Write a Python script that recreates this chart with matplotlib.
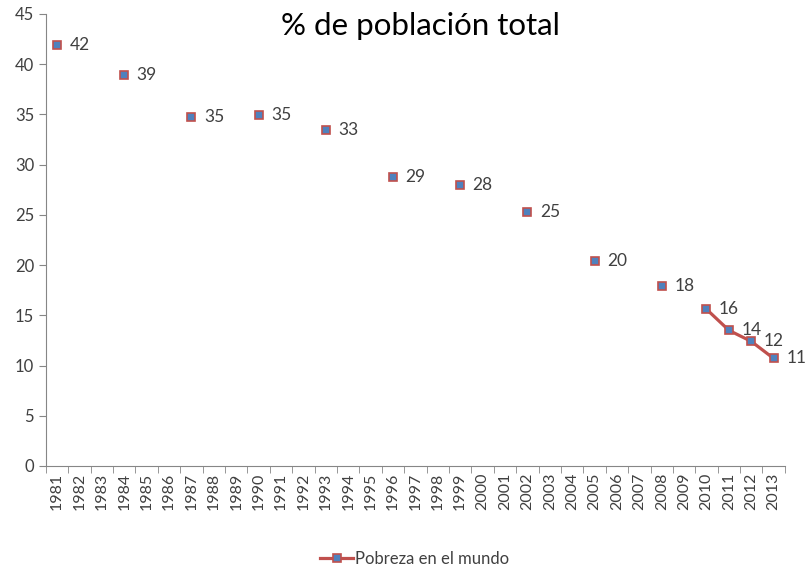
import numpy as np
import matplotlib
matplotlib.use("Agg")
import matplotlib.pyplot as plt

plt.rcParams['font.family'] = ['Lato', 'DejaVu Sans']

# data (NaN = no value for that year)
years = [str(y) for y in range(1981, 2014)]
values = {
    1981: 41.9, 1984: 38.9, 1987: 34.7, 1990: 34.9, 1993: 33.4,
    1996: 28.8, 1999: 28.0, 2002: 25.3, 2005: 20.4, 2008: 17.9,
    2010: 15.6, 2011: 13.5, 2012: 12.4, 2013: 10.7,
}
poverty = [values.get(int(y), np.nan) for y in years]
series_name = "Pobreza en el mundo"
title = "% de población total"

text_col = "#404040"
axis_col = "#868686"

fig = plt.figure(figsize=(8.05, 5.76), dpi=100)
ax = fig.add_axes([0.057, 0.191, 0.918, 0.785])

x = np.arange(len(years))
ax.plot(x, poverty, color="#C0504D", linewidth=2.3, marker="s",
        markersize=6.2, markerfacecolor="#4F81BD", markeredgecolor="#C0504D",
        markeredgewidth=1.2, label=series_name, zorder=3)

for xi, v in zip(x, poverty):
    if not np.isnan(v):
        ax.annotate(f"{v:.0f}", (xi, v), xytext=(9, 0), textcoords="offset points",
                    va="center", ha="left", fontsize=12.5, color=text_col)

ax.set_xlim(-0.5, len(years) - 0.5)
ax.set_ylim(0, 45)
ax.set_yticks(range(0, 46, 5))
ax.set_xticks(x)
ax.set_xticklabels(years, rotation=90, fontsize=11.5, color=text_col)
ax.set_xticks(np.arange(-0.5, len(years), 1), minor=True)
ax.tick_params(axis="x", which="major", length=0, pad=5)
ax.tick_params(axis="x", which="minor", length=5, color=axis_col)
ax.tick_params(axis="y", length=5, color=axis_col, labelsize=12, labelcolor=text_col)

for s in ["top", "right"]:
    ax.spines[s].set_visible(False)
for s in ["left", "bottom"]:
    ax.spines[s].set_color(axis_col)

fig.text(0.522, 0.955, title, ha="center", va="center", fontsize=22.5, color="black")

fig.legend(loc="lower center", bbox_to_anchor=(0.515, -0.01), frameon=False,
           fontsize=12, handlelength=2.0, handletextpad=0.1, labelcolor=text_col)

fig.savefig("out.png", dpi=100)
